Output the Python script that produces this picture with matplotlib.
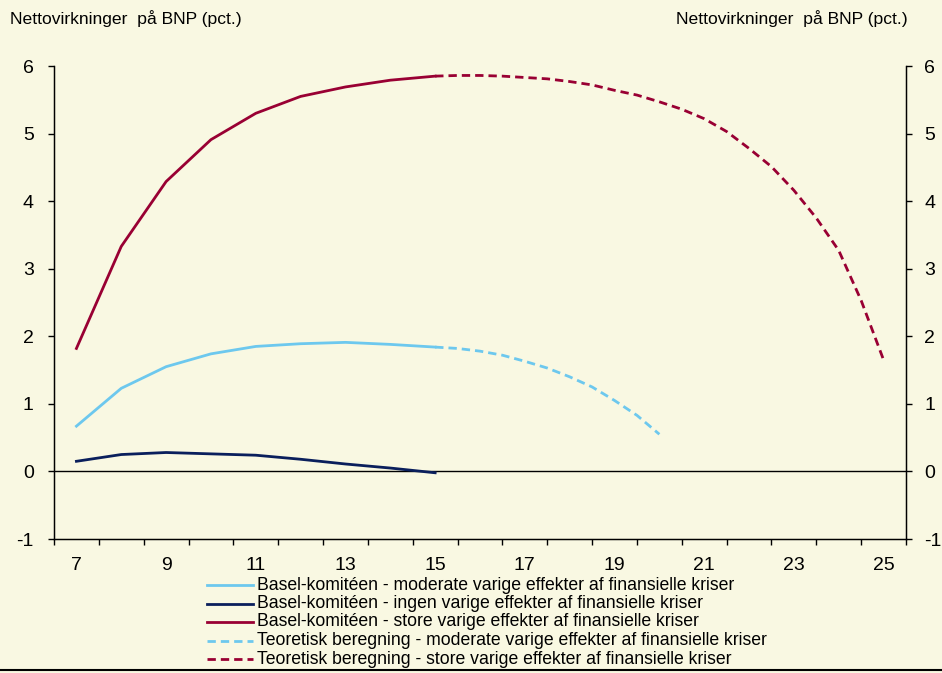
import numpy as np
import matplotlib
matplotlib.use("Agg")
import matplotlib.pyplot as plt
from matplotlib.lines import Line2D

plt.rcParams['font.family'] = ['Liberation Sans', 'DejaVu Sans']

# ---- data ----
years_hist = [7, 8, 9, 10, 11, 12, 13, 14, 15]
basel_moderate = [0.67, 1.23, 1.55, 1.74, 1.85, 1.89, 1.91, 1.88, 1.84]
basel_ingen = [0.15, 0.25, 0.28, 0.26, 0.24, 0.18, 0.11, 0.05, -0.02]
basel_store = [1.82, 3.33, 4.29, 4.91, 5.30, 5.55, 5.69, 5.79, 5.85]

years_teo_mod = [15, 15.5, 16, 16.5, 17, 17.5, 18, 18.5, 19, 19.5, 20]
teo_moderate = [1.84, 1.82, 1.78, 1.72, 1.63, 1.53, 1.40, 1.25, 1.05, 0.83, 0.55]

years_teo_store = [15, 15.5, 16, 16.5, 17, 17.5, 18, 18.5, 19, 19.5, 20, 20.5,
                   21, 21.5, 22, 22.5, 23, 23.5, 24, 24.5, 25]
teo_store = [5.85, 5.86, 5.86, 5.85, 5.83, 5.81, 5.77, 5.72, 5.64, 5.57, 5.47, 5.36,
             5.22, 5.03, 4.78, 4.51, 4.16, 3.75, 3.27, 2.53, 1.65]

x_categories = list(range(7, 26))
x_labels = [str(v) if v % 2 == 1 else "" for v in x_categories]
y_ticks = [-1, 0, 1, 2, 3, 4, 5, 6]

labels = [
    "Basel-komitéen - moderate varige effekter af finansielle kriser",
    "Basel-komitéen - ingen varige effekter af finansielle kriser",
    "Basel-komitéen - store varige effekter af finansielle kriser",
    "Teoretisk beregning - moderate varige effekter af finansielle kriser",
    "Teoretisk beregning - store varige effekter af finansielle kriser",
]

BG = '#F9F8E2'
C_LIGHT = '#6DC8EE'
C_NAVY = '#0A1F5C'
C_RED = '#990033'
DASH = (0, (3.0, 1.8))

fig = plt.figure(figsize=(9.42, 6.73), dpi=100, facecolor=BG)
ax = fig.add_axes([54/942, 1-539/673, (906-54)/942, (539-66)/673])
ax.set_facecolor(BG)

lw = 2.0
ax.plot(years_hist, basel_moderate, color=C_LIGHT, lw=lw)
ax.plot(years_hist, basel_ingen, color=C_NAVY, lw=lw)
ax.plot(years_hist, basel_store, color=C_RED, lw=lw)
ax.plot(years_teo_mod, teo_moderate, color=C_LIGHT, lw=lw, ls=DASH)
ax.plot(years_teo_store, teo_store, color=C_RED, lw=lw, ls=DASH)

ax.axhline(0, color='black', lw=1.0, zorder=1)

ax.set_xlim(6.5, 25.5)
ax.set_ylim(-1, 6)

ax.spines['top'].set_visible(False)
for s in ['left', 'right', 'bottom']:
    ax.spines[s].set_color('black')
    ax.spines[s].set_linewidth(1.0)

# category axis: tick marks between categories, labels at centers
ax.set_xticks([v - 0.5 for v in x_categories] + [25.5])
ax.set_xticklabels([])
ax.set_xticks(x_categories, minor=True)
ax.set_xticklabels(x_labels, minor=True, fontsize=14)
ax.tick_params(axis='x', which='major', direction='out', length=4.5, width=1, color='black')
ax.tick_params(axis='x', which='minor', length=0, pad=13)

ax.set_yticks(y_ticks)
ax.set_yticklabels([str(v) for v in y_ticks], fontsize=14)
ax.tick_params(axis='y', direction='out', length=4.5, width=1, pad=10)

ax2 = ax.twinx()
ax2.set_ylim(-1, 6)
ax2.set_yticks(y_ticks)
ax2.set_yticklabels([str(v) for v in y_ticks], fontsize=14)
ax2.tick_params(axis='y', direction='out', length=4.5, width=1, pad=8.5)
ax2.spines['top'].set_visible(False)

fig.text(10/942, 1-19/673, "Nettovirkninger  på BNP (pct.)", fontsize=12.6,
         ha='left', va='center')
fig.text(908/942, 1-19/673, "Nettovirkninger  på BNP (pct.)", fontsize=12.6,
         ha='right', va='center')

# legend (manual layout)
styles = ['-', '-', '-', DASH, DASH]
colors = [C_LIGHT, C_NAVY, C_RED, C_LIGHT, C_RED]
for i, (lab, col, st) in enumerate(zip(labels, colors, styles)):
    yy = 1 - (585 + i * 18.5) / 673
    fig.add_artist(Line2D([207/942, 253/942], [yy, yy], transform=fig.transFigure,
                          color=col, lw=lw, ls=st))
    fig.text(257/942, yy, lab, fontsize=12.7, ha='left', va='center')

fig.add_artist(Line2D([0, 1], [1-670/673, 1-670/673], transform=fig.transFigure,
                      color='black', lw=1.5))

fig.savefig("out.png", dpi=100, facecolor=BG)
